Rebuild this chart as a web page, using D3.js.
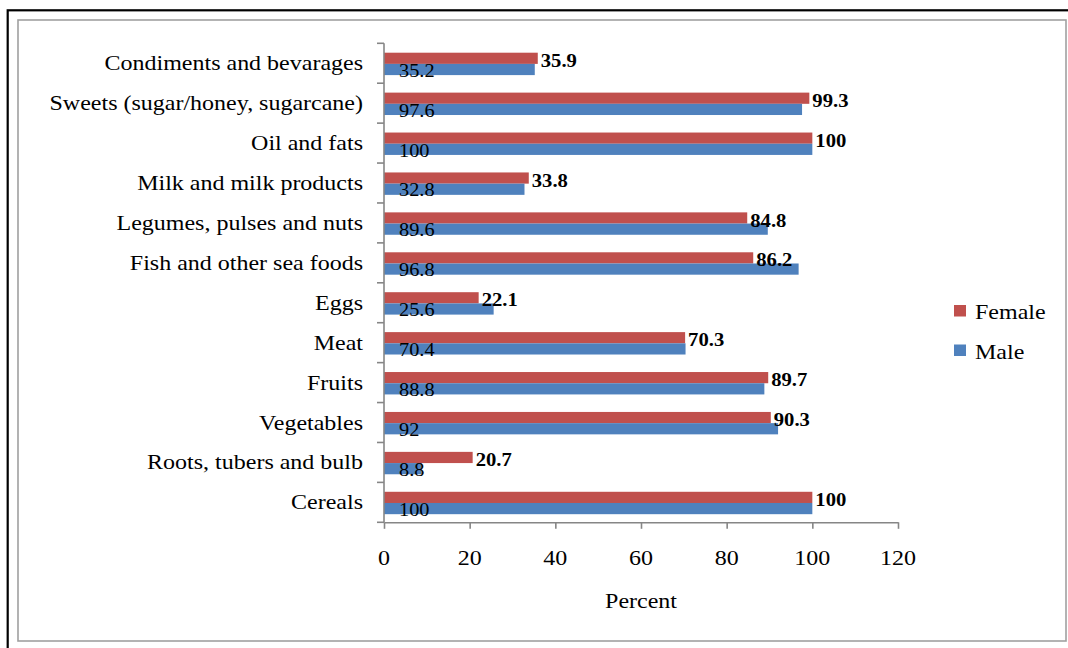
<!DOCTYPE html>
<html>
<head>
<meta charset="utf-8">
<script src="https://cdn.jsdelivr.net/npm/d3@7"></script>
<style>
  html, body { margin: 0; padding: 0; background: #fff; }
  svg { display: block; }
  text { font-family: "Liberation Serif", "Times New Roman", serif; fill: #000; }
</style>
</head>
<body>
<svg id="chart" width="1068" height="648"></svg>
<script>
// Categories listed top to bottom
const categories = [
  "Condiments and bevarages",
  "Sweets (sugar/honey, sugarcane)",
  "Oil and fats",
  "Milk and milk products",
  "Legumes, pulses and nuts",
  "Fish and other sea foods",
  "Eggs",
  "Meat",
  "Fruits",
  "Vegetables",
  "Roots, tubers and bulb",
  "Cereals"
];
const femaleValues = [35.9, 99.3, 100, 33.8, 84.8, 86.2, 22.1, 70.3, 89.7, 90.3, 20.7, 100];
const maleValues   = [35.2, 97.6, 100, 32.8, 89.6, 96.8, 25.6, 70.4, 88.8, 92, 8.8, 100];
const xTicks = [0, 20, 40, 60, 80, 100, 120];
const seriesNames = ["Female", "Male"];
const seriesColors = ["#C0504D", "#4F81BD"];
const axisTitle = "Percent";

const svg = d3.select("#chart");
const SX = 1.2; // horizontal stretch of text seen in the reference

// Frames
svg.append("rect").attr("x", 7.7).attr("y", 10.3).attr("width", 1080).attr("height", 660)
  .attr("fill", "none").attr("stroke", "#000").attr("stroke-width", 2.2);
svg.append("rect").attr("x", 18).attr("y", 20).attr("width", 1048).attr("height", 621)
  .attr("fill", "#fff").attr("stroke", "#a0a0a0").attr("stroke-width", 1.6);

const x = d3.scaleLinear().domain([0, 120]).range([384, 898]);
const y = d3.scaleBand().domain(categories).range([43.3, 522.3]).paddingInner(0).paddingOuter(0);
const bw = y.bandwidth();
const barH = 11.2;
const barTop = 9.4; // offset of first bar inside band

function stretchedText(g, tx, ty, txt, size, anchor, sx, weight) {
  return g.append("text")
    .attr("transform", `translate(${tx},${ty}) scale(${sx},1)`)
    .attr("text-anchor", anchor)
    .style("font-size", size + "px")
    .style("font-weight", weight || "normal")
    .text(txt);
}

const axisColor = "#868686";

// Bars
const rows = categories.map((c, i) => ({ c, f: femaleValues[i], m: maleValues[i] }));
const g = svg.append("g");
g.selectAll("rect.f").data(rows).join("rect").attr("class", "f")
  .attr("x", x(0)).attr("y", d => y(d.c) + barTop)
  .attr("width", d => x(d.f) - x(0)).attr("height", barH)
  .attr("fill", seriesColors[0]);
g.selectAll("rect.m").data(rows).join("rect").attr("class", "m")
  .attr("x", x(0)).attr("y", d => y(d.c) + barTop + barH)
  .attr("width", d => x(d.m) - x(0)).attr("height", barH)
  .attr("fill", seriesColors[1]);

// Y axis
const yAxisG = svg.append("g");
yAxisG.append("line").attr("x1", 384).attr("x2", 384).attr("y1", y.range()[0]).attr("y2", y.range()[1])
  .attr("stroke", axisColor).attr("stroke-width", 1.6);
const yTickPos = categories.map(c => y(c)).concat([y.range()[1]]);
yAxisG.selectAll("line.t").data(yTickPos).join("line").attr("class", "t")
  .attr("x1", 377).attr("x2", 384).attr("y1", d => d).attr("y2", d => d)
  .attr("stroke", axisColor).attr("stroke-width", 1.6);

// X axis via d3.axisBottom
const xAxisG = svg.append("g").attr("transform", `translate(0,${y.range()[1]})`)
  .call(d3.axisBottom(x).tickValues(xTicks).tickSize(6.5).tickSizeOuter(0).tickFormat(() => ""));
xAxisG.select(".domain").attr("stroke", axisColor).attr("stroke-width", 1.6);
xAxisG.selectAll(".tick line").attr("stroke", axisColor).attr("stroke-width", 1.6);
xTicks.forEach(t => stretchedText(svg, x(t), 565, String(t), 20, "middle", SX));

// Category labels
rows.forEach(d => stretchedText(svg, 363, y(d.c) + bw / 2 + 7, d.c, 20, "end", SX));

// Data labels
rows.forEach(d => {
  stretchedText(svg, x(d.f) + 3, y(d.c) + 23.6, String(d.f), 19.5, "start", 1.06, "bold");
  stretchedText(svg, 399, y(d.c) + 33.4, String(d.m), 18.5, "start", 1.1);
});

// Axis title
stretchedText(svg, 641, 608.3, axisTitle, 20, "middle", SX);

// Legend
const legendY = [305, 344.5];
seriesNames.forEach((s, i) => {
  svg.append("rect").attr("x", 954).attr("y", legendY[i]).attr("width", 12).attr("height", 11.5)
    .attr("fill", seriesColors[i]);
  stretchedText(svg, 975, legendY[i] + 14, s, 20, "start", SX);
});
</script>
</body>
</html>
